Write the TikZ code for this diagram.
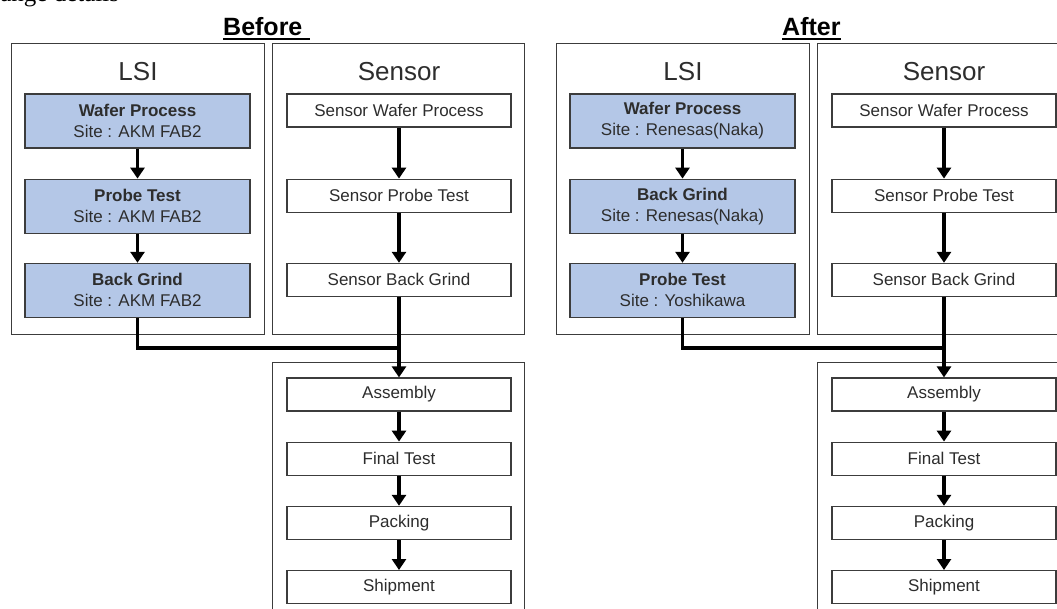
\documentclass[tikz,border=0pt]{standalone}
\usepackage{fontspec}
\setmainfont{Liberation Sans}
\newfontfamily\capfont{Liberation Serif}
\usepackage{tikz}
\usetikzlibrary{positioning,arrows.meta}
\definecolor{lsiblue}{RGB}{180,199,231}
\definecolor{edge}{RGB}{60,60,60}
\definecolor{ink}{RGB}{45,45,45}
\tikzstyle{grp}=[%
      rectangle, draw=edge, line width=1.4pt, fill=none, anchor=north west,
      inner sep=0pt
]
\tikzstyle{lsi}=[%
      rectangle, draw=edge, line width=1.2pt, fill=lsiblue, text=ink,
      minimum width=225pt, minimum height=54pt, inner sep=0pt, align=center,
      font=\fontsize{17}{21}\selectfont
]
\tikzstyle{sen}=[%
      rectangle, draw=edge, line width=1.2pt, fill=white, text=ink,
      minimum width=224pt, minimum height=33pt, inner sep=0pt,
      font=\fontsize{17}{21}\selectfont
]
\tikzstyle{ttl}=[anchor=base, inner sep=0pt, text=ink, font=\fontsize{26}{30}\selectfont]
\tikzstyle{hd}=[anchor=base west, inner sep=0pt, font=\bfseries\fontsize{25}{30}\selectfont]
\tikzstyle{flow}=[->, line width=3.5pt]

\begin{document}
\begin{tikzpicture}[x=1pt, y=-1pt,
    >={Triangle[width=14pt,length=11pt]}
  ]
    \useasboundingbox (0,0) rectangle (1057,608);
    \clip (0,0) rectangle (1057,608);

    \node[anchor=base west, inner sep=0pt, font=\capfont\fontsize{25}{30}\selectfont]
          (cap) at (-29,1.5) {Change details};

    % Before
    \node[hd] (bhd) at (223,35) {Before};
    \draw[line width=1.6pt] ([yshift=-4pt]bhd.base west) -- ([xshift=7pt,yshift=-4pt]bhd.base east);

    \node[grp, minimum width=253pt, minimum height=291pt] (blsi) at (11,43) {};
    \node[grp, minimum width=252pt, minimum height=291pt] (bsen) at (272,43) {};
    \node[grp, minimum width=252pt, minimum height=270pt] (bfin) at (272,362) {};
    \node[ttl] (blsit) at (138,80) {LSI};
    \node[ttl] (bsent) at (399,80) {Sensor};

    \node[lsi]  (bwp) at (137.5,121)    {\textbf{Wafer Process}\\Site : AKM FAB2};
    \node[lsi]  (bpt) [below=30pt of bwp] {\textbf{Probe Test}\\Site : AKM FAB2};
    \node[lsi]  (bbg) [below=29pt of bpt] {\textbf{Back Grind}\\Site : AKM FAB2};

    \node[sen]  (bswp) at (399,110.5)    {Sensor Wafer Process};
    \node[sen]  (bspt) [below=51pt of bswp] {Sensor Probe Test};
    \node[sen]  (bsbg) [below=50pt of bspt] {Sensor Back Grind};

    \node[sen]  (bas) at (399,394.5)    {Assembly};
    \node[sen]  (bft) [below=30pt of bas] {Final Test};
    \node[sen]  (bpk) [below=30pt of bft] {Packing};
    \node[sen]  (bsh) [below=30pt of bpk] {Shipment};

    \coordinate (bjoin) at (399,348);
    \draw[flow] (bwp) -- (bpt);
    \draw[flow] (bpt) -- (bbg);
    \draw[flow] (bswp) -- (bspt);
    \draw[flow] (bspt) -- (bsbg);
    \draw[line width=3.5pt] (bbg.south) |- (bjoin);
    \draw[flow] (bsbg) -- (bas);
    \draw[flow] (bas) -- (bft);
    \draw[flow] (bft) -- (bpk);
    \draw[flow] (bpk) -- (bsh);

    % After
    \begin{scope}[xshift=545pt]
    \node[hd] (ahd) at (237,35) {After};
    \draw[line width=1.6pt] ([yshift=-4pt]ahd.base west) -- ([yshift=-4pt]ahd.base east);

    \node[grp, minimum width=253pt, minimum height=291pt] (alsi) at (11,43) {};
    \node[grp, minimum width=262pt, minimum height=291pt] (asen) at (272,43) {};
    \node[grp, minimum width=262pt, minimum height=270pt] (afin) at (272,362) {};
    \node[ttl] (alsit) at (138,80) {LSI};
    \node[ttl] (asent) at (399,80) {Sensor};

    \node[lsi]  (awp) at (137.5,121)    {\textbf{Wafer Process}\\Site : Renesas(Naka)};
    \node[lsi]  (abg) [below=30pt of awp] {\textbf{Back Grind}\\Site : Renesas(Naka)};
    \node[lsi]  (apt) [below=29pt of abg] {\textbf{Probe Test}\\Site : Yoshikawa};

    \node[sen]  (aswp) at (399,110.5)    {Sensor Wafer Process};
    \node[sen]  (aspt) [below=51pt of aswp] {Sensor Probe Test};
    \node[sen]  (asbg) [below=50pt of aspt] {Sensor Back Grind};

    \node[sen]  (aas) at (399,394.5)    {Assembly};
    \node[sen]  (aft) [below=30pt of aas] {Final Test};
    \node[sen]  (apk) [below=30pt of aft] {Packing};
    \node[sen]  (ash) [below=30pt of apk] {Shipment};

    \coordinate (ajoin) at (399,348);
    \draw[flow] (awp) -- (abg);
    \draw[flow] (abg) -- (apt);
    \draw[flow] (aswp) -- (aspt);
    \draw[flow] (aspt) -- (asbg);
    \draw[line width=3.5pt] (apt.south) |- (ajoin);
    \draw[flow] (asbg) -- (aas);
    \draw[flow] (aas) -- (aft);
    \draw[flow] (aft) -- (apk);
    \draw[flow] (apk) -- (ash);
    \end{scope}
  \end{tikzpicture}
\end{document}
